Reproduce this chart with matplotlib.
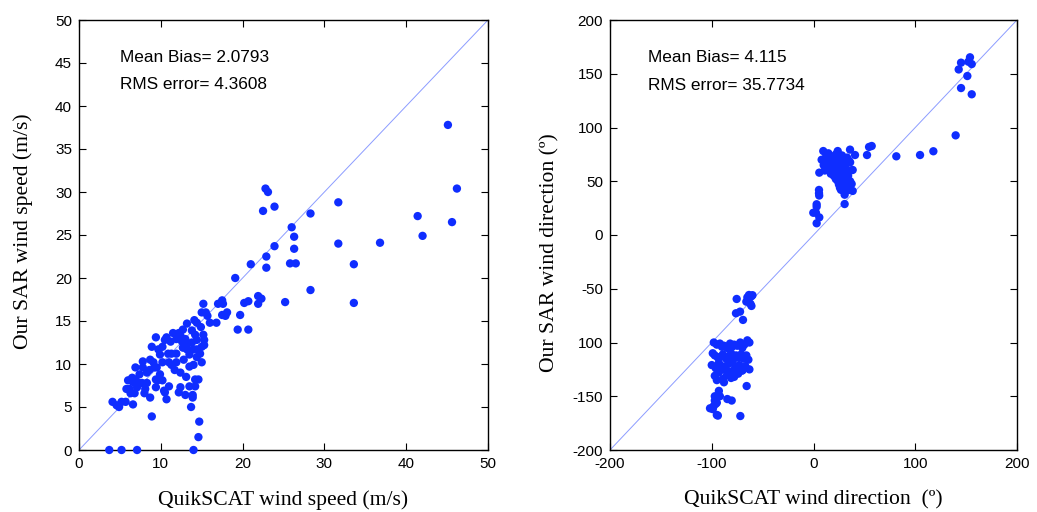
import matplotlib
matplotlib.use("Agg")
import matplotlib.pyplot as plt
import numpy as np

# ---------------- Data: wind speed (m/s) ----------------
speed_qscat = [
    45.1, 46.2, 45.6, 41.4, 42.0, 36.8, 31.7, 31.7, 33.6, 33.6, 28.3, 28.3, 25.2,
    26.0, 26.3, 26.3, 25.8, 26.5, 22.8, 23.1, 23.9, 22.5, 23.9, 22.9, 22.9, 21.0,
    19.1, 21.9, 22.3, 21.9, 20.2, 20.7, 19.7, 19.4, 20.7, 18.1, 17.9, 17.5, 17.6,
    17.0, 17.5, 16.8, 16.0, 15.7, 15.2, 15.0, 15.5,
    3.7, 5.2, 7.1, 14.0, 14.6, 14.7, 8.9, 13.7, 4.1, 4.6, 4.9, 5.2, 5.7, 6.6, 8.7,
    10.7, 13.9, 13.9, 13.0, 12.2, 12.4, 10.4, 10.5, 11.0, 9.4, 9.4, 14.2, 14.6,
    14.2, 13.5, 13.1, 12.4, 11.7, 11.3, 11.0, 11.9, 11.3, 12.8, 14.0, 15.0, 14.4,
    14.8, 13.5, 5.8, 6.2, 6.3, 6.8, 7.1, 6.6, 6.5, 6.9, 6.9, 7.4, 7.8, 7.8, 8.0,
    8.1, 8.3, 8.6, 8.7, 8.9, 9.4, 9.7, 9.2, 9.5, 9.9, 10.2, 9.9, 10.2, 10.5, 10.7,
    11.2, 11.5, 11.9, 12.4, 12.7, 13.2, 13.8, 14.1, 14.4, 14.9, 15.2, 15.3, 15.3,
    15.0, 14.4, 13.8, 13.2, 12.7, 12.6, 13.2, 14.0, 14.4, 13.5, 12.2, 13.0, 14.2,
    6.0, 7.3, 7.7, 8.3, 9.1, 9.6, 10.2, 10.9, 11.9,
]
speed_sar = [
    37.8, 30.4, 26.5, 27.2, 24.9, 24.1, 28.8, 24.0, 21.6, 17.1, 27.5, 18.6, 17.2,
    25.9, 24.8, 23.4, 21.7, 21.7, 30.4, 30.0, 28.3, 27.8, 23.7, 22.5, 21.2, 21.6,
    20.0, 17.9, 17.6, 17.0, 17.1, 17.3, 15.7, 14.0, 14.0, 16.0, 15.6, 17.4, 17.0,
    17.0, 15.7, 14.8, 14.8, 15.6, 17.0, 16.0, 16.0,
    0.0, 0.0, 0.0, 0.0, 1.5, 3.3, 3.9, 5.0, 5.6, 5.2, 5.0, 5.6, 5.6, 5.3, 6.1,
    5.9, 6.4, 6.1, 6.4, 6.7, 7.3, 6.9, 6.7, 7.4, 7.3, 8.2, 8.2, 8.2,
    7.4, 7.4, 8.5, 9.0, 9.3, 9.9, 10.2, 10.2, 11.2, 10.5, 9.9, 10.2, 10.8,
    11.2, 9.7, 7.1, 7.1, 6.6, 6.6, 7.3, 7.9, 8.4, 8.2, 9.6, 8.8, 10.3, 9.6, 6.6,
    7.1, 9.0, 9.3, 10.5, 12.0, 13.1, 11.7, 9.6, 9.6, 8.8, 8.1, 11.1, 12.0, 12.8, 13.1,
    12.6, 13.6, 12.9, 13.3, 14.0, 14.7, 13.9, 15.1, 14.8, 14.3, 13.4, 12.8, 12.2,
    12.0, 12.8, 12.5, 12.2, 11.9, 12.6, 11.7, 11.7, 11.7, 11.1, 13.6, 12.9, 13.4,
    8.1, 7.8, 7.8, 7.8, 10.2, 8.1, 10.2, 11.2, 11.2,
]

# ---------------- Data: wind direction (deg) ----------------
dir_qscat = [
    145, 153.8, 152.2, 155.5, 142.7, 151.2, 145, 155.5, 139.7, 117.8, 104.7, 81.4,
    57.2, 54.6, 52.6, 40.8, 35.9, 23.8, 9.6, 14.6,
    5.7, 5.4, 5.4, 5.6, 3.1, 3.1, -0.2, 2.4, 5.7, 3.1, 30.6, 30.6, 34.2, 38.5,
    37.5, 36.5, 38.5, 36.0,
    8, 12, 15, 18, 20, 22, 25, 28, 30, 33, 10, 13, 17, 24, 27, 32, 35, 11, 16, 21,
    20, 22, 24, 25, 26, 27, 28, 29, 30, 31, 32, 23, 25, 27, 29, 31, 33, 26, 28, 30,
    24, 26, 28, 30, 27, 29, 34, 36, 21, 19, 35, 14, 17,
    -63.4, -61, -64, -66, -62, -65, -60, -61, -75.5, -72.2, -76.2, -69.3,
    -98, -95, -92, -90, -88, -85, -82, -80, -78, -75, -72, -70, -68, -65, -63,
    -99, -97, -94, -91, -89, -86, -83, -81, -79, -76, -74, -71, -69, -66, -64,
    -100, -96, -93, -90, -87, -84, -80, -77, -73, -70, -67, -63,
    -97, -93, -89, -85, -82, -78, -74, -70, -95, -88, -81, -76,
    -65.7, -71.9,
    -101.7, -95, -94, -96, -98, -99, -97, -92, -93, -84.7, -80.4, -97, -95,
]
dir_sar = [
    160.3, 165.3, 161.2, 159, 154, 147.9, 136.7, 130.9, 92.7, 77.9, 74.4, 73.2,
    82.8, 81.9, 74.4, 74.4, 79.4, 78.1, 78.1, 76,
    58, 41.9, 38.8, 36.7, 28.6, 26.4, 20.7, 20.7, 16.4, 10.9, 28.8, 37.5, 41.8, 41,
    47.5, 60, 60.5, 67.6,
    70, 72, 68, 73, 70, 75, 72, 74, 70, 72, 65, 63, 66, 68, 64, 66, 69, 60, 62, 58,
    55, 52, 50, 47, 44, 42, 45, 48, 52, 56, 60, 57, 54, 50, 46, 53, 58, 56, 59, 61,
    62, 60, 55, 49, 51, 43, 55, 50, 64, 67, 45, 70, 57,
    -55.8, -57, -60, -62, -64, -58, -56, -66, -59.5, -71.3, -72.8, -79,
    -100, -102, -101, -104, -103, -105, -101, -104, -102, -103, -100, -105, -102, -98, -100,
    -110, -112, -114, -113, -111, -115, -113, -110, -116, -112, -114, -111, -115, -112, -116,
    -121, -124, -119, -122, -125, -120, -118, -123, -121, -126, -122, -125,
    -131, -128, -134, -130, -127, -132, -129, -126, -135, -137, -133, -128,
    -140.5, -168.4,
    -161.2, -167.4, -168, -157, -159, -162, -154, -150, -145, -152.6, -154, -150, -156,
]

speed_yticks = [0, 5, 10, 15, 20, 25, 30, 35, 40, 45, 50]
speed_xticks = [0, 10, 20, 30, 40, 50]
dir_yticks = [-200, -150, -100, -50, 0, 50, 100, 150, 200]
# as printed in the reference (the minus of -100 is hidden behind the axis title)
dir_yticklabels = ["-200", "-150", "100", "-50", "0", "50", "100", "150", "200"]
dir_xticks = [-200, -100, 0, 100, 200]

speed_stats = ["Mean Bias= 2.0793", "RMS error= 4.3608"]
dir_stats = ["Mean Bias= 4.115", "RMS error= 35.7734"]

# ---------------- Plot ----------------
plt.rcParams['font.family'] = ['Liberation Sans', 'DejaVu Sans']
plt.rcParams['axes.unicode_minus'] = False

fig = plt.figure(figsize=(10.37, 5.12), dpi=100)
ax1 = fig.add_axes([79/1037, 1-450/512, (488-79)/1037, 430/512])
ax2 = fig.add_axes([610/1037, 1-450/512, (1017-610)/1037, 430/512])

dot_color = '#0f2dff'
line_color = '#8c9cff'
serif = ['Liberation Serif', 'DejaVu Serif']


def style(ax, xlim, ylim, xticks, yticks, xlabel, ylabel, stats, tx, ty1, ty2,
          ylab_xy):
    ax.plot(xlim, ylim, color=line_color, lw=0.7, zorder=1)
    ax.set_xlim(xlim)
    ax.set_ylim(ylim)
    ax.set_xticks(xticks)
    ax.set_yticks(yticks)
    ax.tick_params(direction='in', top=True, right=True, length=5, width=0.8,
                   labelsize=11, pad=5)
    for s in ax.spines.values():
        s.set_linewidth(1.0)
    ax.set_xlabel(xlabel, fontsize=15.6, family=serif, labelpad=14)
    ax.set_ylabel(ylabel, fontsize=15.6, family=serif)
    ax.yaxis.set_label_coords(*ylab_xy)
    ax.text(tx, ty1, stats[0], fontsize=12.4, ha='left', va='center')
    ax.text(tx, ty2, stats[1], fontsize=12.4, ha='left', va='center')


ax1.scatter(speed_qscat, speed_sar, s=36, color=dot_color, edgecolors='none',
            zorder=3, clip_on=False)
style(ax1, [0, 50], [0, 50], speed_xticks, speed_yticks,
      "QuikSCAT wind speed (m/s)", "Our SAR wind speed (m/s)",
      speed_stats, 5.0, 45.6, 42.5, (-0.112, 0.51))

ax2.scatter(dir_qscat, dir_sar, s=36, color=dot_color, edgecolors='none',
            zorder=3)
style(ax2, [-200, 200], [-200, 200], dir_xticks, dir_yticks,
      "QuikSCAT wind direction  (\u00ba)", "Our SAR wind direction (\u00ba)",
      dir_stats, -162.7, 164.7, 139.5, (-0.125, 0.46))
ax2.set_yticklabels(dir_yticklabels)

fig.savefig("out.png", dpi=100)
